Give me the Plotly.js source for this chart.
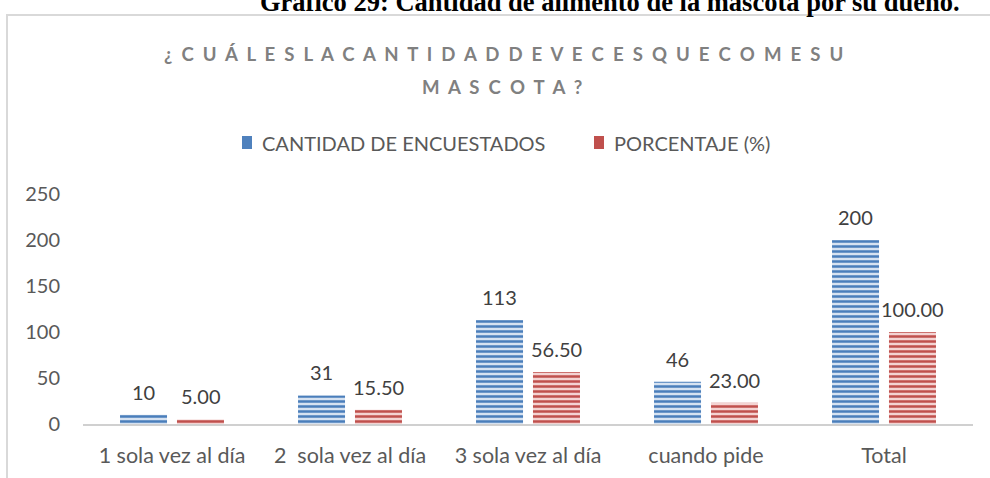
<!DOCTYPE html>
<html>
<head>
<meta charset="utf-8">
<script src="https://cdn.plot.ly/plotly-3.0.1.min.js"></script>
<style>html,body{margin:0;padding:0;background:#fff;} #chart{width:990px;height:478px;}</style>
</head>
<body>
<div id="chart"></div>
<script>
const categories = ["1 sola vez al día", "2  sola vez al día", "3 sola vez al día", "cuando pide", "Total"];
const encuestados = [10, 31, 113, 46, 200];
const porcentaje = [5.00, 15.50, 56.50, 23.00, 100.00];
const seriesNames = ["CANTIDAD DE ENCUESTADOS", "PORCENTAJE (%)"];
const yTicks = [0, 50, 100, 150, 200, 250];
const headerText = "Gráfico 29: Cantidad de alimento de la mascota por su dueño.";
const titleLine1 = "¿CUÁLESLACANTIDADDEVECESQUECOMESU";
const titleLine2 = "MASCOTA?";

const FONT = "Lato, 'Open Sans', sans-serif";
const spaced = s => Array.from(s).join("\u00a0\u00a0");

// plot area geometry (px)
const L = 83, R = 17, T = 194, B = 54, W = 990, H = 478;
const pw = W - L - R, ph = H - T - B;
const px2x = p => (p - L) / pw;
const py2y = p => (H - B - p) / ph;

const colors = [
  {main: "#4f81bd", fg: "#4a7ebb", bg: "#d6e2f1"},
  {main: "#c0504d", fg: "#c0504d", bg: "#f4d3d2"}
];

const traces = [encuestados, porcentaje].map((vals, k) => ({
  type: "bar", name: seriesNames[k], x: categories, y: vals,
  marker: {color: colors[k].main, pattern: {shape: "-", fgcolor: colors[k].fg, bgcolor: colors[k].bg, size: 5, solidity: 0.5}},
  hoverinfo: "none", showlegend: false
}));

const annotations = [];
const shapes = [];
encuestados.forEach((v, i) => annotations.push({
  x: categories[i], y: v, xref: "x", yref: "y", text: String(v), showarrow: false,
  xshift: -28.5, yshift: 23, yanchor: "middle", font: {family: FONT, size: 20, color: "#404040"}
}));
porcentaje.forEach((v, i) => annotations.push({
  x: categories[i], y: v, xref: "x", yref: "y", text: v.toFixed(2), showarrow: false,
  xshift: 28.5, yshift: 23, yanchor: "middle", font: {family: FONT, size: 20, color: "#404040"}
}));
annotations.push({
  xref: "paper", yref: "paper", x: px2x(610), y: py2y(2), xanchor: "center", yanchor: "middle",
  text: "<b>" + headerText + "</b>", showarrow: false,
  font: {family: "'Liberation Serif', 'Times New Roman', serif", size: 26.5, color: "#000"}
});
annotations.push({
  xref: "paper", yref: "paper", x: px2x(503), y: py2y(54), xanchor: "center", yanchor: "middle",
  text: "<b>" + spaced(titleLine1) + "</b>", showarrow: false,
  font: {family: FONT, size: 18.6, color: "#808080"}
});
annotations.push({
  xref: "paper", yref: "paper", x: px2x(502), y: py2y(87), xanchor: "center", yanchor: "middle",
  text: "<b>" + spaced(titleLine2) + "</b>", showarrow: false,
  font: {family: FONT, size: 18.6, color: "#808080"}
});

// legend (drawn from series names)
const legendSym = [242, 594];
seriesNames.forEach((nm, k) => {
  shapes.push({
    type: "rect", xref: "paper", yref: "paper",
    x0: px2x(legendSym[k]), x1: px2x(legendSym[k] + 10), y0: py2y(149), y1: py2y(136),
    line: {width: 0}, fillcolor: colors[k].main
  });
  annotations.push({
    xref: "paper", yref: "paper", x: px2x(legendSym[k] + 18), y: py2y(143), xanchor: "left", yanchor: "middle",
    text: nm, showarrow: false, font: {family: FONT, size: 20, color: "#595959"}
  });
});

shapes.push({
  type: "rect", xref: "paper", yref: "paper",
  x0: px2x(7), x1: px2x(1000), y0: py2y(500), y1: py2y(15),
  line: {color: "#d9d9d9", width: 2}, fillcolor: "rgba(0,0,0,0)", layer: "below"
});

const layout = {
  width: W, height: H,
  margin: {l: L, r: R, t: T, b: B, pad: 0},
  paper_bgcolor: "#fff", plot_bgcolor: "#fff",
  barmode: "group", bargap: 0.36, bargroupgap: 0.175,
  showlegend: false,
  xaxis: {
    showline: true, linecolor: "#d0d0d0", linewidth: 2, showgrid: false, zeroline: false,
    ticks: "", ticklabelstandoff: 11, tickfont: {family: FONT, size: 21.5, color: "#595959"}
  },
  yaxis: {
    range: [0, 250], tickvals: yTicks, showgrid: false, zeroline: false, showline: false,
    ticks: "", ticklabelstandoff: 22, tickfont: {family: FONT, size: 20, color: "#595959"}
  },
  annotations: annotations,
  shapes: shapes
};

Plotly.newPlot("chart", traces, layout, {staticPlot: true, displayModeBar: false});
</script>
</body>
</html>
